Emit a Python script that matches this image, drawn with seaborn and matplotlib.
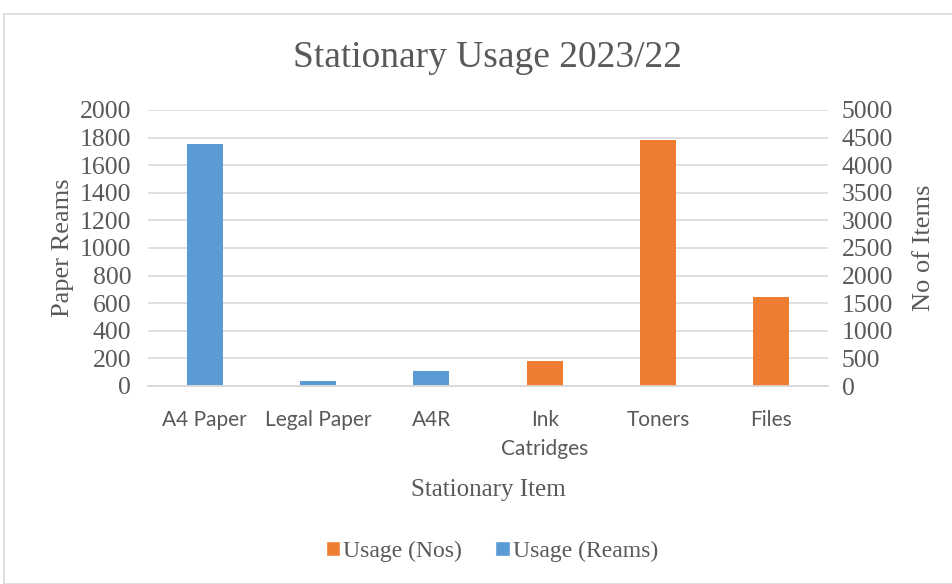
import matplotlib
matplotlib.use("Agg")
import matplotlib.pyplot as plt
import seaborn as sns
import pandas as pd
from matplotlib.patches import Rectangle, Patch

categories = ["A4 Paper", "Legal Paper", "A4R", "Ink\nCatridges", "Toners", "Files"]
usage_reams = [1750, 35, 110, 0, 0, 0]
usage_nos = [0, 0, 0, 450, 4450, 1620]
left_ticks = list(range(0, 2001, 200))
right_ticks = list(range(0, 5001, 500))

blue = "#5B9BD5"
orange = "#ED7D31"
grey_text = "#595959"
grid_col = "#D9D9D9"

sns.set_theme(style="white")
plt.rcParams["font.family"] = ["Liberation Serif", "DejaVu Serif"]

df = pd.DataFrame({"cat": categories, "reams": usage_reams, "nos": usage_nos})

fig = plt.figure(figsize=(9.53, 5.84), dpi=100)
W, H = 953, 584
ax = fig.add_axes([148 / W, 1 - 386 / H, (828 - 148) / W, (386 - 110) / H])
ax2 = ax.twinx()

sns.barplot(data=df, x="cat", y="reams", ax=ax, color=blue, width=0.32,
            saturation=1, edgecolor="none")
sns.barplot(data=df, x="cat", y="nos", ax=ax2, color=orange, width=0.32,
            saturation=1, edgecolor="none")

ax.set_ylim(0, 2000)
ax2.set_ylim(0, 5000)
ax.set_xlim(-0.5, len(categories) - 0.5)
ax.set_yticks(left_ticks)
ax2.set_yticks(right_ticks)
ax.set_yticklabels([str(t) for t in left_ticks], fontsize=18.5, color=grey_text)
ax2.set_yticklabels([str(t) for t in right_ticks], fontsize=18.5, color=grey_text)
ax.set_xticks(range(len(categories)))
ax.set_xticklabels(categories, fontsize=15, color=grey_text, family="Lato",
                   linespacing=1.6)

ax.yaxis.grid(True, color=grid_col, linewidth=1.2)
ax.set_axisbelow(True)
for a in (ax, ax2):
    for s in ("top", "left", "right"):
        a.spines[s].set_visible(False)
    a.spines["bottom"].set_color(grid_col)
    a.spines["bottom"].set_linewidth(1.2)
    a.tick_params(length=0)
ax.tick_params(axis="y", pad=12)
ax2.tick_params(axis="y", pad=10)
ax.tick_params(axis="x", pad=17)

ax.set_xlabel("Stationary Item", fontsize=18, color=grey_text, labelpad=14)
ax.set_ylabel("Paper Reams", fontsize=19, color=grey_text, labelpad=4)
ax2.set_ylabel("No of Items", fontsize=19, color=grey_text, labelpad=14)

fig.text(488 / W, 1 - 58 / H, "Stationary Usage 2023/22", fontsize=27,
         color=grey_text, ha="center", va="center")

handles = [Patch(facecolor=orange, label="Usage (Nos)"),
           Patch(facecolor=blue, label="Usage (Reams)")]
fig.legend(handles=handles, loc="center", bbox_to_anchor=(492 / W, 1 - 551 / H),
           ncol=2, frameon=False, fontsize=17, handlelength=0.6, handleheight=0.6,
           handletextpad=0.15, columnspacing=1.4, labelcolor=grey_text)

fig.patches.append(Rectangle((4 / W, 0), 1, 1 - 14 / H, transform=fig.transFigure,
                             fill=False, edgecolor="#D9D9D9", linewidth=1.2))

fig.savefig("out.png", dpi=100)
